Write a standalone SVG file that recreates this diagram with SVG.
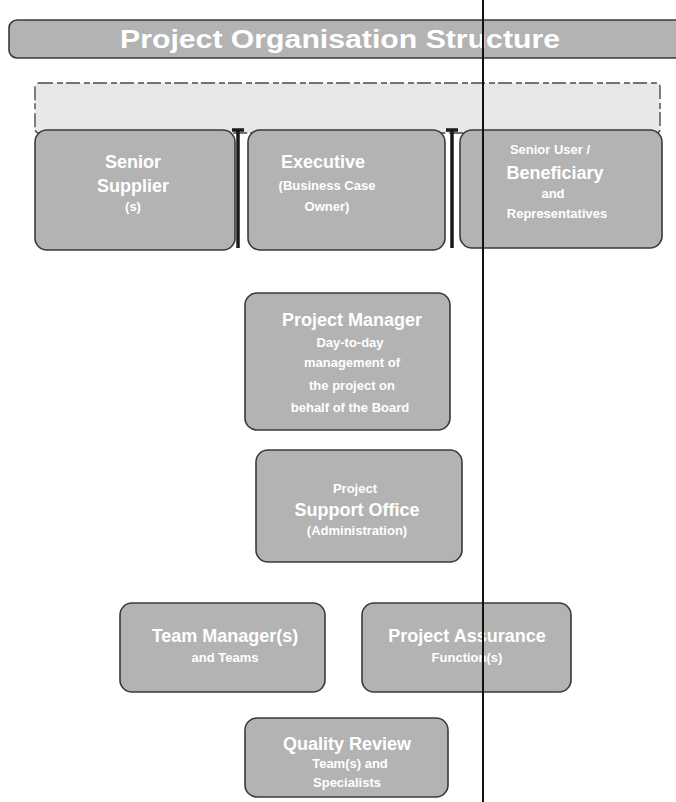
<svg xmlns="http://www.w3.org/2000/svg" width="676" height="802" viewBox="0 0 676 802">
<style>
.box{fill:#b3b3b3;stroke:#3a3a3a;stroke-width:1.6}
.band{fill:#e8e8e8;stroke:#4a4a4a;stroke-width:1.4;stroke-dasharray:14 4 6 3}
.t{font-family:"Liberation Sans",Arial,sans-serif;fill:#ffffff;text-anchor:middle;font-weight:bold}
.h{font-size:18px}
.s{font-size:13px}
.title{font-size:26px}
.bar{stroke:#1a1a1a;stroke-width:3.5;fill:none}
</style>
<rect width="676" height="802" fill="#ffffff"/>
<g id="title">
<rect x="9" y="20" width="680" height="38" rx="8" class="box"/>
<text x="340" y="48" class="t title" textLength="440" lengthAdjust="spacingAndGlyphs">Project Organisation Structure</text>
</g>
<g id="project-board">
<rect x="35" y="83" width="625" height="50" rx="4" class="band"/>
</g>
<g id="connectors">
<path class="bar" d="M232 130 H244 M238 130 V248 M446 130 H458 M452 130 V248"/>
</g>
<g id="senior-supplier">
<rect x="35" y="130" width="200" height="120" rx="12" class="box"/>
<text x="133" y="168" class="t h">Senior</text>
<text x="133" y="192" class="t h">Supplier</text>
<text x="133" y="211" class="t s">(s)</text>
</g>
<g id="executive">
<rect x="248" y="130" width="197" height="120" rx="12" class="box"/>
<text x="323" y="168" class="t h">Executive</text>
<text x="327" y="190" class="t s">(Business Case</text>
<text x="327" y="211" class="t s">Owner)</text>
</g>
<g id="senior-user">
<rect x="460" y="130" width="202" height="118" rx="12" class="box"/>
<text x="550" y="154" class="t s">Senior User /</text>
<text x="555" y="179" class="t h">Beneficiary</text>
<text x="553" y="198" class="t s">and</text>
<text x="557" y="218" class="t s">Representatives</text>
</g>
<g id="project-manager">
<rect x="245" y="293" width="205" height="137" rx="12" class="box"/>
<text x="352" y="326" class="t h">Project Manager</text>
<text x="350" y="347" class="t s">Day-to-day</text>
<text x="352" y="367" class="t s">management of</text>
<text x="352" y="390" class="t s">the project on</text>
<text x="350" y="412" class="t s">behalf of the Board</text>
</g>
<g id="project-support">
<rect x="256" y="450" width="206" height="112" rx="12" class="box"/>
<text x="355" y="493" class="t s">Project</text>
<text x="357" y="516" class="t h">Support Office</text>
<text x="357" y="535" class="t s">(Administration)</text>
</g>
<g id="team-manager">
<rect x="120" y="603" width="205" height="89" rx="12" class="box"/>
<text x="225" y="642" class="t h">Team Manager(s)</text>
<text x="225" y="662" class="t s">and Teams</text>
</g>
<g id="project-assurance">
<rect x="362" y="603" width="209" height="89" rx="12" class="box"/>
<text x="467" y="642" class="t h">Project Assurance</text>
<text x="467" y="662" class="t s">Function(s)</text>
</g>
<g id="quality-review">
<rect x="245" y="718" width="203" height="79" rx="12" class="box"/>
<text x="347" y="750" class="t h">Quality Review</text>
<text x="350" y="768" class="t s">Team(s) and</text>
<text x="347" y="787" class="t s">Specialists</text>
</g>
<line x1="483" y1="0" x2="483" y2="802" stroke="#111111" stroke-width="2"/>
</svg>
